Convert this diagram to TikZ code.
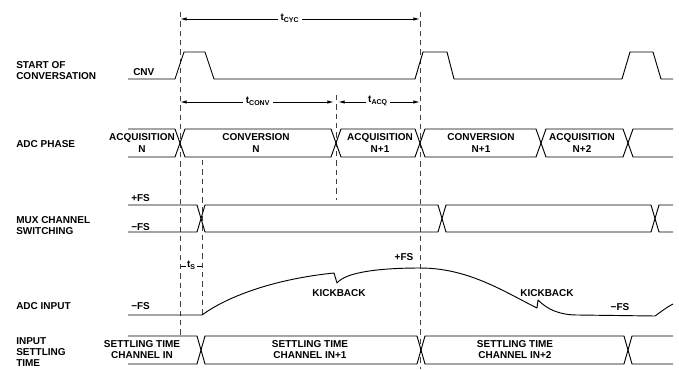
\documentclass[tikz,border=0pt]{standalone}
\usepackage{fontspec}
\setmainfont{Liberation Sans}
\usetikzlibrary{arrows.meta}
\begin{document}
\begin{tikzpicture}[x=0.75pt,y=-0.75pt,
  every node/.style={font=\fontsize{7.5}{8.3}\selectfont\bfseries, inner sep=0pt},
  sig/.style={line width=0.7pt, line join=round},
  guide/.style={line width=0.7pt, dash pattern=on 4pt off 3pt, black!75},
  dim/.style={line width=0.7pt, {Latex[length=5pt,width=2.6pt]}-{Latex[length=5pt,width=2.6pt]}},
  lab/.style={anchor=west, align=left},
  tlab/.style={fill=white, inner xsep=2pt, inner ysep=1pt},
  ctr/.style={align=center}]
\useasboundingbox (0,0) rectangle (679,369);

% ---- left row titles
\node[lab] (tStart) at (16,70.5) {START OF\\CONVERSATION};
\node[lab] (tPhase) at (16,144) {ADC PHASE};
\node[lab] (tMux) at (16,226) {MUX CHANNEL\\SWITCHING};
\node[lab] (tInput) at (16,306) {ADC INPUT};
\node[lab] (tSettle) at (16,352) {INPUT\\SETTLING\\TIME};

% ---- guide (dashed) lines
\coordinate (g1t) at (180,12);  \coordinate (g1b) at (180,336);
\coordinate (g2t) at (420,12);  \coordinate (g2b) at (420,369);
\coordinate (g3t) at (336,95);  \coordinate (g3b) at (336,200);
\coordinate (g4t) at (202,160); \coordinate (g4b) at (202,315);
\draw[guide] (g1t) -- (g1b);
\draw[guide] (g2t) -- (g2b);
\draw[guide] (g3t) -- (g3b);
\draw[guide] (g4t) -- (g4b);

% ---- CNV
\node[anchor=west] (cnv) at (133,72) {CNV};
\draw[sig] (128,79) -- (175,79) -- (184,52) -- (205,52) -- (214,79)
  -- (415,79) -- (423,52) -- (447,52) -- (454,79)
  -- (622,79) -- (630,52) -- (653,52) -- (661,79) -- (673,79);

% ---- timing dimensions
\coordinate (cycL) at (180,19); \coordinate (cycR) at (420,19);
\draw[dim] (cycL) -- (cycR);
\node[tlab] (tcyc) at (290,18) {t\textsubscript{CYC}};
\coordinate (convL) at (180,102); \coordinate (convR) at (334,102);
\draw[dim] (convL) -- (convR);
\node[tlab] (tconv) at (258,101) {t\textsubscript{CONV}};
\coordinate (acqL) at (338,102); \coordinate (acqR) at (420,102);
\draw[dim] (acqL) -- (acqR);
\node[tlab] (tacq) at (378,101) {t\textsubscript{ACQ}};
\coordinate (tsL) at (181,266); \coordinate (tsR) at (202,266);
\draw[line width=0.6pt] (tsL) -- (tsR);
\node[tlab, inner xsep=1pt] (ts) at (191.5,265) {t\textsubscript{S}};

% ---- ADC phase bus (T=129, B=157, h=5)
\draw[sig] (128,129) -- (175,129) -- (185,157) -- (331,157) -- (341,129)
  -- (415,129) -- (425,157) -- (536,157) -- (546,129) -- (623,129) -- (633,157) -- (673,157);
\draw[sig] (128,157) -- (175,157) -- (185,129) -- (331,129) -- (341,157)
  -- (415,157) -- (425,129) -- (536,129) -- (546,157) -- (623,157) -- (633,129) -- (673,129);
\node[ctr] (ph1) at (142,143) {ACQUISITION\\N};
\node[ctr] (ph2) at (256,143) {CONVERSION\\N};
\node[ctr] (ph3) at (380,143) {ACQUISITION\\N+1};
\node[ctr] (ph4) at (481,143) {CONVERSION\\N+1};
\node[ctr] (ph5) at (582,143) {ACQUISITION\\N+2};

% ---- MUX (T=205, B=232)
\node[anchor=west] (mp) at (131,198) {+FS};
\node[anchor=west] (mm) at (131,227) {−FS};
\draw[sig] (128,205) -- (197,205) -- (205,232) -- (438,232) -- (446,205) -- (651,205) -- (659,232) -- (673,232);
\draw[sig] (128,232) -- (197,232) -- (205,205) -- (438,205) -- (446,232) -- (651,232) -- (659,205) -- (673,205);

% ---- ADC input
\node[anchor=west] (im) at (131,306) {−FS};
\node (ip) at (404,257) {+FS};
\node (kb1) at (339,293) {KICKBACK};
\node (kb2) at (547,293) {KICKBACK};
\node (im2) at (620,307) {−FS};
\draw[sig] (128,315) -- (202,315)
  .. controls (228,296) and (275,279) .. (334,273)
  -- (337,283)
  .. controls (346,272) and (380,268) .. (420,268)
  .. controls (468,268) and (503,291) .. (537,308)
  -- (538,300)
  .. controls (548,310) and (560,315) .. (578,315)
  -- (655,316)
  .. controls (662,311) and (667,307) .. (673,304);

% ---- settling (T=336, B=364)
\draw[sig] (128,336) -- (197,336) -- (205,364) -- (417,364) -- (425,336) -- (624,336) -- (632,364) -- (673,364);
\draw[sig] (128,364) -- (197,364) -- (205,336) -- (417,336) -- (425,364) -- (624,364) -- (632,336) -- (673,336);
\node[ctr] (st1) at (142,350) {SETTLING TIME\\CHANNEL IN};
\node[ctr] (st2) at (310,350) {SETTLING TIME\\CHANNEL IN+1};
\node[ctr] (st3) at (515,350) {SETTLING TIME\\CHANNEL IN+2};
\end{tikzpicture}
\end{document}
